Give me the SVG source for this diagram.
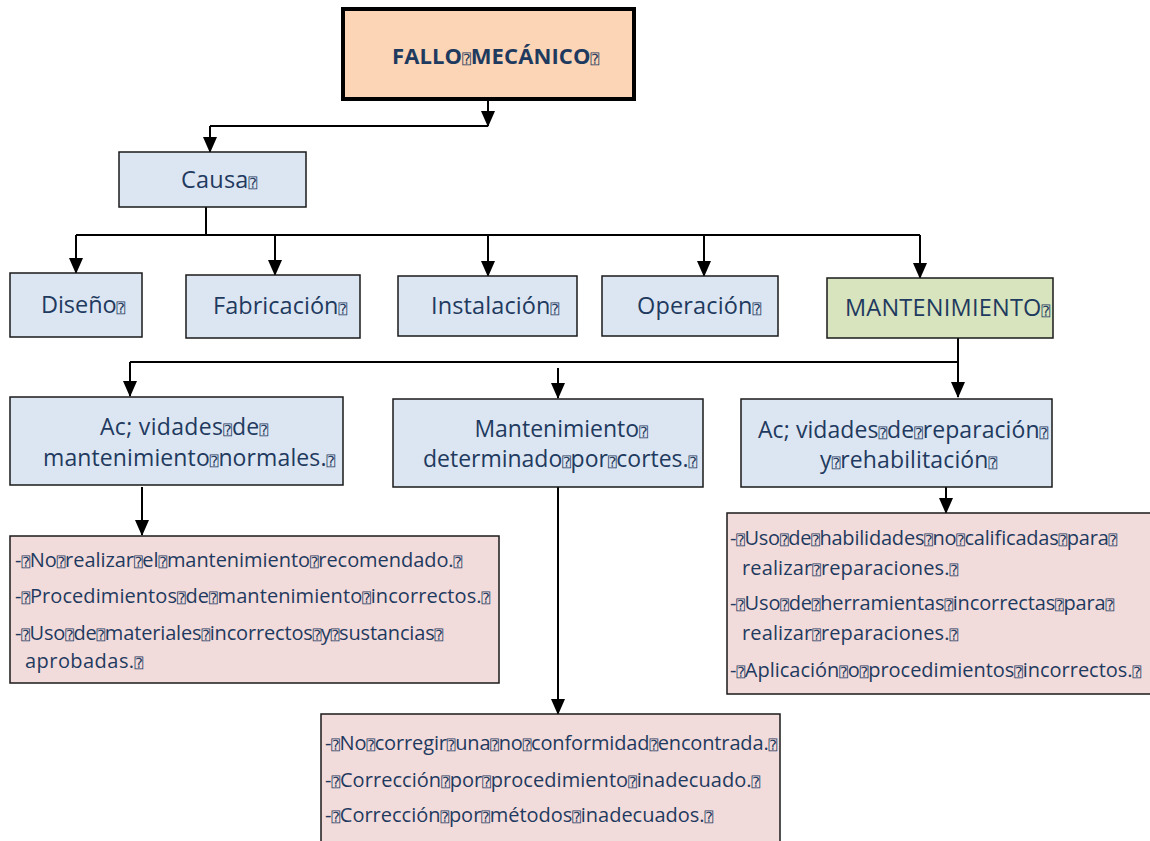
<svg xmlns="http://www.w3.org/2000/svg" width="1150" height="841" viewBox="0 0 1150 841">
  <style>
    .t { font-family: "Open Sans", "Liberation Sans", sans-serif; fill: #1f3a5f; }
    .h { font-size: 22px; font-weight: bold; }
    .m { font-size: 23.5px; }
    .b { font-size: 23px; }
    .s { font-size: 20px; }
    .q { font-family: "DejaVu Sans Mono", "DejaVu Sans", monospace; font-size: 14px; font-weight: normal; }
    .blue { fill: #dce6f2; stroke: #1a1a1a; stroke-width: 1.5; }
    .pink { fill: #f2dcdb; stroke: #1a1a1a; stroke-width: 1.5; }
    .green { fill: #d7e4bd; stroke: #1a1a1a; stroke-width: 1.5; }
    .peach { fill: #fbd5b5; stroke: #000; stroke-width: 4; }
    .ln { fill: none; stroke: #000; stroke-width: 2; }
    .ar { fill: none; stroke: #000; stroke-width: 2; marker-end: url(#tip); }
  </style>
  <defs>
    <marker id="tip" markerUnits="userSpaceOnUse" markerWidth="16" markerHeight="16" refX="15" refY="7" orient="auto">
      <path d="M0,0 L16,7 L0,14 Z" fill="#000"/>
    </marker>
  </defs>

  <rect width="1150" height="841" fill="#fff"/>

  <!-- connectors -->
  <g id="connectors">
    <path class="ar" d="M488,99 V126"/>
    <path class="ln" d="M488,126 H210"/>
    <path class="ar" d="M210,126 V152"/>
    <path class="ln" d="M206,207 V236"/>
    <path class="ln" d="M76,235 H920"/>
    <path class="ar" d="M76,235 V273"/>
    <path class="ar" d="M275,235 V275"/>
    <path class="ar" d="M488,235 V276"/>
    <path class="ar" d="M704,235 V276"/>
    <path class="ar" d="M920,235 V278"/>
    <path class="ln" d="M958,338 V362 H130"/>
    <path class="ar" d="M958,362 V397"/>
    <path class="ar" d="M130,362 V396"/>
    <path class="ar" d="M558,368 V398"/>
    <path class="ar" d="M142,487 V535"/>
    <path class="ar" d="M558,487 V714"/>
    <path class="ar" d="M946,486 V513"/>
  </g>

  <g id="fallo">
    <rect class="peach" x="343" y="9" width="291" height="90"/>
    <text class="t h" x="392" y="64" textLength="207">FALLO<tspan class="q">⍰</tspan>MECÁNICO<tspan class="q">⍰</tspan></text>
  </g>

  <g id="causa">
    <rect class="blue" x="119" y="152" width="187" height="55"/>
    <text class="t m" x="181" y="188" textLength="76">Causa<tspan class="q">⍰</tspan></text>
  </g>

  <g id="diseno">
    <rect class="blue" x="10" y="273" width="132" height="64"/>
    <text class="t m" x="41" y="313" textLength="84">Diseño<tspan class="q">⍰</tspan></text>
  </g>

  <g id="fabricacion">
    <rect class="blue" x="186" y="275" width="174" height="63"/>
    <text class="t m" x="213" y="314" textLength="134">Fabricación<tspan class="q">⍰</tspan></text>
  </g>

  <g id="instalacion">
    <rect class="blue" x="398" y="276" width="179" height="60"/>
    <text class="t m" x="431" y="314" textLength="128">Instalación<tspan class="q">⍰</tspan></text>
  </g>

  <g id="operacion">
    <rect class="blue" x="602" y="276" width="176" height="60"/>
    <text class="t m" x="637" y="314" textLength="124">Operación<tspan class="q">⍰</tspan></text>
  </g>

  <g id="mantenimiento">
    <rect class="green" x="827" y="278" width="226" height="60"/>
    <text class="t m" x="845" y="316" textLength="205">MANTENIMIENTO<tspan class="q">⍰</tspan></text>
  </g>

  <g id="act-normales">
    <rect class="blue" x="10" y="397" width="333" height="88"/>
    <text class="t b" x="100" y="435" textLength="168">Ac; vidades<tspan class="q">⍰</tspan>de<tspan class="q">⍰</tspan></text>
    <text class="t b" x="43" y="466" textLength="292">mantenimiento<tspan class="q">⍰</tspan>normales.<tspan class="q">⍰</tspan></text>
  </g>

  <g id="mant-cortes">
    <rect class="blue" x="393" y="399" width="310" height="88"/>
    <text class="t b" x="561" y="437" text-anchor="middle">Mantenimiento<tspan class="q">⍰</tspan></text>
    <text class="t b" x="423" y="467" textLength="274">determinado<tspan class="q">⍰</tspan>por<tspan class="q">⍰</tspan>cortes.<tspan class="q">⍰</tspan></text>
  </g>

  <g id="act-reparacion">
    <rect class="blue" x="741" y="399" width="311" height="88"/>
    <text class="t b" x="758" y="438" textLength="290">Ac; vidades<tspan class="q">⍰</tspan>de<tspan class="q">⍰</tspan>reparación<tspan class="q">⍰</tspan></text>
    <text class="t b" x="820" y="468" textLength="177">y<tspan class="q">⍰</tspan>rehabilitación<tspan class="q">⍰</tspan></text>
  </g>

  <g id="fallos-normales">
    <rect class="pink" x="10" y="536" width="489" height="147"/>
    <text class="t s" x="15" y="567" textLength="447">-<tspan class="q">⍰</tspan>No<tspan class="q">⍰</tspan>realizar<tspan class="q">⍰</tspan>el<tspan class="q">⍰</tspan>mantenimiento<tspan class="q">⍰</tspan>recomendado.<tspan class="q">⍰</tspan></text>
    <text class="t s" x="15" y="603" textLength="475">-<tspan class="q">⍰</tspan>Procedimientos<tspan class="q">⍰</tspan>de<tspan class="q">⍰</tspan>mantenimiento<tspan class="q">⍰</tspan>incorrectos.<tspan class="q">⍰</tspan></text>
    <text class="t s" x="15" y="640" textLength="428">-<tspan class="q">⍰</tspan>Uso<tspan class="q">⍰</tspan>de<tspan class="q">⍰</tspan>materiales<tspan class="q">⍰</tspan>incorrectos<tspan class="q">⍰</tspan>y<tspan class="q">⍰</tspan>sustancias<tspan class="q">⍰</tspan></text>
    <text class="t s" x="25" y="668" textLength="118">aprobadas.<tspan class="q">⍰</tspan></text>
  </g>

  <g id="fallos-cortes">
    <rect class="pink" x="321" y="714" width="459" height="150"/>
    <text class="t s" x="325" y="750" textLength="452">-<tspan class="q">⍰</tspan>No<tspan class="q">⍰</tspan>corregir<tspan class="q">⍰</tspan>una<tspan class="q">⍰</tspan>no<tspan class="q">⍰</tspan>conformidad<tspan class="q">⍰</tspan>encontrada.<tspan class="q">⍰</tspan></text>
    <text class="t s" x="325" y="787" textLength="435">-<tspan class="q">⍰</tspan>Corrección<tspan class="q">⍰</tspan>por<tspan class="q">⍰</tspan>procedimiento<tspan class="q">⍰</tspan>inadecuado.<tspan class="q">⍰</tspan></text>
    <text class="t s" x="325" y="822" textLength="388">-<tspan class="q">⍰</tspan>Corrección<tspan class="q">⍰</tspan>por<tspan class="q">⍰</tspan>métodos<tspan class="q">⍰</tspan>inadecuados.<tspan class="q">⍰</tspan></text>
  </g>

  <g id="fallos-reparacion">
    <rect class="pink" x="727" y="513" width="440" height="181"/>
    <text class="t s" x="730" y="545" textLength="387">-<tspan class="q">⍰</tspan>Uso<tspan class="q">⍰</tspan>de<tspan class="q">⍰</tspan>habilidades<tspan class="q">⍰</tspan>no<tspan class="q">⍰</tspan>calificadas<tspan class="q">⍰</tspan>para<tspan class="q">⍰</tspan></text>
    <text class="t s" x="742" y="575" textLength="216">realizar<tspan class="q">⍰</tspan>reparaciones.<tspan class="q">⍰</tspan></text>
    <text class="t s" x="730" y="610" textLength="384">-<tspan class="q">⍰</tspan>Uso<tspan class="q">⍰</tspan>de<tspan class="q">⍰</tspan>herramientas<tspan class="q">⍰</tspan>incorrectas<tspan class="q">⍰</tspan>para<tspan class="q">⍰</tspan></text>
    <text class="t s" x="742" y="640" textLength="216">realizar<tspan class="q">⍰</tspan>reparaciones.<tspan class="q">⍰</tspan></text>
    <text class="t s" x="730" y="677" textLength="411">-<tspan class="q">⍰</tspan>Aplicación<tspan class="q">⍰</tspan>o<tspan class="q">⍰</tspan>procedimientos<tspan class="q">⍰</tspan>incorrectos.<tspan class="q">⍰</tspan></text>
  </g>
</svg>
